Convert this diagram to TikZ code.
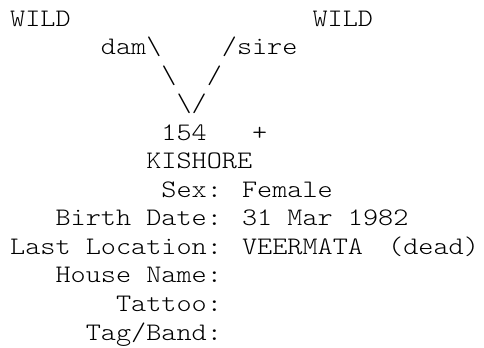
\documentclass[tikz,border=0pt]{standalone}
\usepackage{fontspec}
\newfontfamily\pedfont[FakeStretch=1.143]{Latin Modern Mono Light}

\begin{document}
\begin{tikzpicture}[x=15.12pt, y=-28.55pt,
    pedtext/.style={anchor=base west, inner sep=0pt, font=\pedfont\fontsize{25.2}{28.55}\selectfont}]
    \useasboundingbox (-0.661, -0.911) rectangle ++(32.01, 12.154);
    
    % parents
    \node [pedtext] (damwild) at (0, 0) {WILD};
    \node [pedtext] (sirewild) at (20, 0) {WILD};
    \node [pedtext] (dam) at (6, 1) {dam\textbackslash};
    \node [pedtext] (sire) at (14, 1) {/sire};
    \node [pedtext] (damleg) at (10, 2) {\textbackslash};
    \node [pedtext] (sireleg) at (13, 2) {/};
    \node [pedtext] (join) at (11, 3) {\textbackslash/};
    
    % animal
    \node [pedtext] (studbook) at (10, 4) {154};
    \node [pedtext] (plus) at (16, 4) {+};
    \node [pedtext] (name) at (9, 5) {KISHORE};
    \node [pedtext] (sex) at (10, 6) {Sex: Female};
    \node [pedtext] (birth) at (3, 7) {Birth Date: 31 Mar 1982};
    \node [pedtext] (location) at (0, 8) {Last Location: VEERMATA};
    \node [pedtext] (dead) at (25, 8) {(dead)};
    \node [pedtext] (house) at (3, 9) {House Name:};
    \node [pedtext] (tattoo) at (7, 10) {Tattoo:};
    \node [pedtext] (tag) at (5, 11) {Tag/Band:};
    
\end{tikzpicture}
\end{document}
